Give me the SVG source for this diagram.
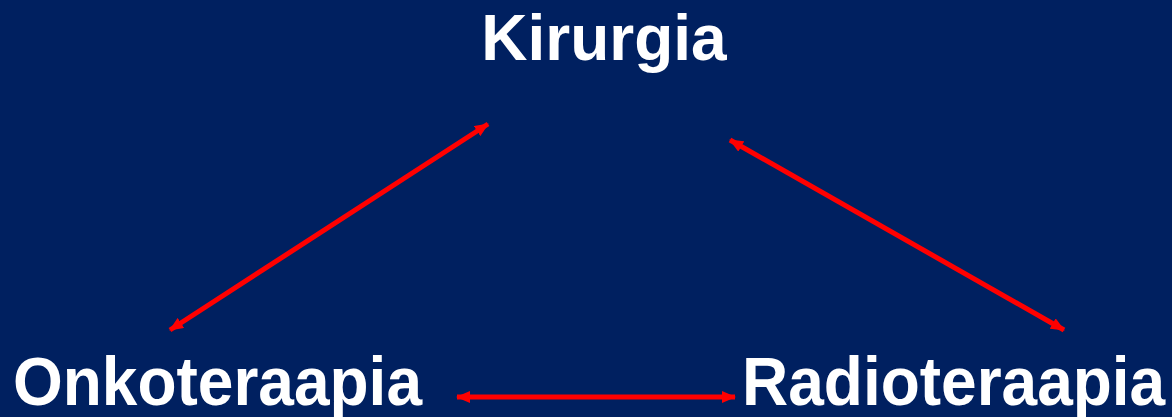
<svg xmlns="http://www.w3.org/2000/svg" width="1172" height="417" viewBox="0 0 1172 417">
  <defs>
    <style>
      .lbl { font-family: "Liberation Sans", Arial, sans-serif; font-weight: bold; font-size: 64px; fill: #ffffff; }
      .conn { stroke: #ff0000; stroke-width: 5; fill: none; marker-start: url(#head); marker-end: url(#head); }
    </style>
    <marker id="head" viewBox="0 0 14 12" refX="13" refY="6" markerWidth="14" markerHeight="12" markerUnits="userSpaceOnUse" orient="auto-start-reverse">
      <path d="M0,0 L14,6 L0,12 Z" fill="#ff0000"/>
    </marker>
  </defs>
  <rect x="0" y="0" width="1172" height="417" fill="#002060"/>
  <g id="connectors">
    <line class="conn" x1="170" y1="330" x2="488" y2="124"/>
    <line class="conn" x1="730" y1="140" x2="1064" y2="330"/>
    <line class="conn" x1="457" y1="397" x2="735" y2="397"/>
  </g>
  <g id="node-kirurgia">
    <text class="lbl" x="604" y="60" text-anchor="middle">Kirurgia</text>
  </g>
  <g id="node-onkoteraapia">
    <text class="lbl" transform="translate(13,405) scale(1,1.06)">Onkoteraapia</text>
  </g>
  <g id="node-radioteraapia">
    <text class="lbl" transform="translate(742,405) scale(1,1.06)">Radioteraapia</text>
  </g>
</svg>
